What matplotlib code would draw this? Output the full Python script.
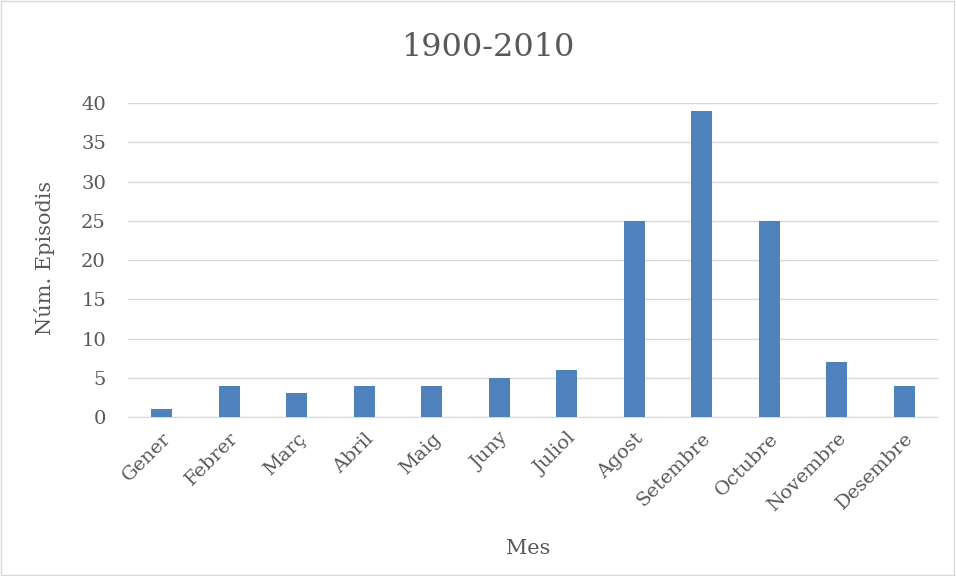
import matplotlib.pyplot as plt
from matplotlib.patches import Rectangle

mesos = ['Gener', 'Febrer', 'Març', 'Abril', 'Maig', 'Juny', 'Juliol',
         'Agost', 'Setembre', 'Octubre', 'Novembre', 'Desembre']
episodis = [1, 4, 3, 4, 4, 5, 6, 25, 39, 25, 7, 4]

plt.rcParams['font.family'] = ['DejaVu Serif']
gris = '#595959'

fig = plt.figure(figsize=(9.56, 5.76), dpi=100)
ax = fig.add_axes([0.134, 0.276, 0.847, 0.545])

# marc exterior
fig.patches.append(Rectangle((0.001, 0.001), 0.997, 0.997, transform=fig.transFigure,
                             fill=False, edgecolor='#d9d9d9', linewidth=1))

ax.bar(range(len(mesos)), episodis, width=0.31, color='#4f81bd', zorder=3)

ax.set_xlim(-0.5, len(mesos) - 0.5)
ax.set_ylim(0, 40)
ax.set_yticks(range(0, 41, 5))
ax.set_xticks(range(len(mesos)))
ax.set_xticklabels(mesos, rotation=45, ha='right', rotation_mode='anchor')
ax.tick_params(axis='both', length=0, labelsize=14, colors=gris)
ax.tick_params(axis='y', pad=16)
ax.tick_params(axis='x', pad=9)
ax.grid(axis='y', color='#d9d9d9', linewidth=1, zorder=0)
for s in ['top', 'right', 'left']:
    ax.spines[s].set_visible(False)
ax.spines['bottom'].set_color('#d9d9d9')

fig.text(488 / 956, 1 - 47 / 576, '1900-2010', fontsize=23, color=gris, ha='center', va='center')
fig.text(45 / 956, 1 - 258 / 576, 'Núm. Episodis', fontsize=15, color=gris,
         rotation=90, ha='center', va='center')
fig.text(528 / 956, 1 - 548 / 576, 'Mes', fontsize=15, color=gris, ha='center', va='center')

fig.savefig('out.png', dpi=100)
